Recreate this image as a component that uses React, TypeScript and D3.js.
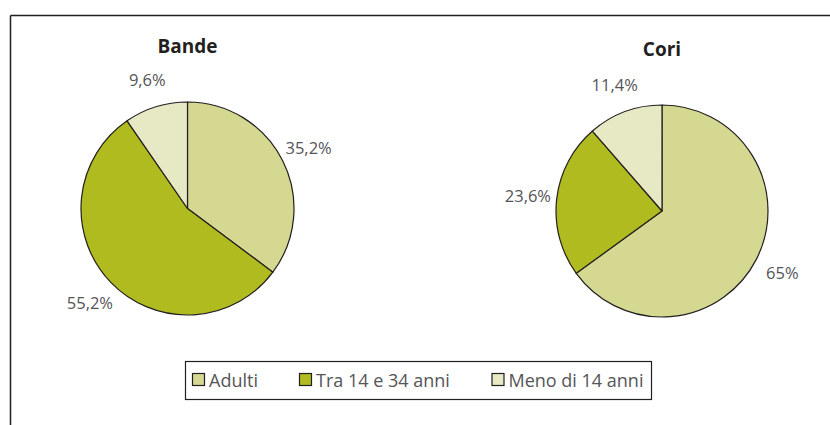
import React from "react";
import * as d3 from "d3";

const categories = ["Adulti", "Tra 14 e 34 anni", "Meno di 14 anni"];
const colors = ["#d4d891", "#b0bb1f", "#e6e9c3"];
const charts = ["Bande", "Cori"];
const bandeValues = [35.2, 55.2, 9.6];
const coriValues = [65, 23.6, 11.4];
const bandeLabels = ["35,2%", "55,2%", "9,6%"];
const coriLabels = ["65%", "23,6%", "11,4%"];

const W = 830;
const H = 425;
const FONT = "'Open Sans', 'Noto Sans', sans-serif";

function Pie({ cx, cy, r, values, labels, title }: any) {
  const pie = d3.pie<number>().sort(null).value((d) => d);
  const arcs = pie(values);
  const arc = d3.arc<d3.PieArcDatum<number>>().innerRadius(0).outerRadius(r);
  const labelArc = d3.arc<d3.PieArcDatum<number>>().innerRadius(r + 29).outerRadius(r + 29);
  return (
    <g transform={`translate(${cx},${cy})`}>
      <text x={0} y={-r - 49} textAnchor="middle" fontFamily={FONT} fontWeight={700} fontSize={19} fill="#231f20">
        {title}
      </text>
      {arcs.map((a, i) => (
        <path key={i} d={arc(a) || ""} fill={colors[i]} stroke="#231f20" strokeWidth={1.2} strokeLinejoin="round" />
      ))}
      {arcs.map((a, i) => {
        const [x, y] = labelArc.centroid(a);
        return (
          <text key={"l" + i} x={x} y={y} textAnchor="middle" dominantBaseline="central" fontFamily={FONT} fontSize={16.5} fill="#555557">
            {labels[i]}
          </text>
        );
      })}
    </g>
  );
}

export default function App() {
  const legendX = [192, 299, 491.5];
  return (
    <svg width={W} height={H} style={{ position: "absolute", left: 0, top: 0, background: "#fff" }}>
      <rect x={0} y={0} width={W} height={H} fill="#fff" />
      <line x1={10.5} y1={15.5} x2={W} y2={15.5} stroke="#231f20" strokeWidth={1.5} />
      <line x1={10.5} y1={15.5} x2={10.5} y2={H} stroke="#231f20" strokeWidth={1.5} />
      <Pie cx={187.5} cy={208.5} r={106.5} values={bandeValues} labels={bandeLabels} title={charts[0]} />
      <Pie cx={662} cy={211} r={106} values={coriValues} labels={coriLabels} title={charts[1]} />
      <rect x={185.5} y={361.5} width={466} height={38} fill="#fff" stroke="#231f20" strokeWidth={1.2} />
      {categories.map((c, i) => (
        <g key={c}>
          <rect x={legendX[i] + 0.5} y={373.5} width={12} height={12} fill={colors[i]} stroke="#231f20" strokeWidth={1.2} />
          <text x={legendX[i] + 17} y={387} fontFamily={FONT} fontSize={18} fill="#555557">
            {c}
          </text>
        </g>
      ))}
    </svg>
  );
}
